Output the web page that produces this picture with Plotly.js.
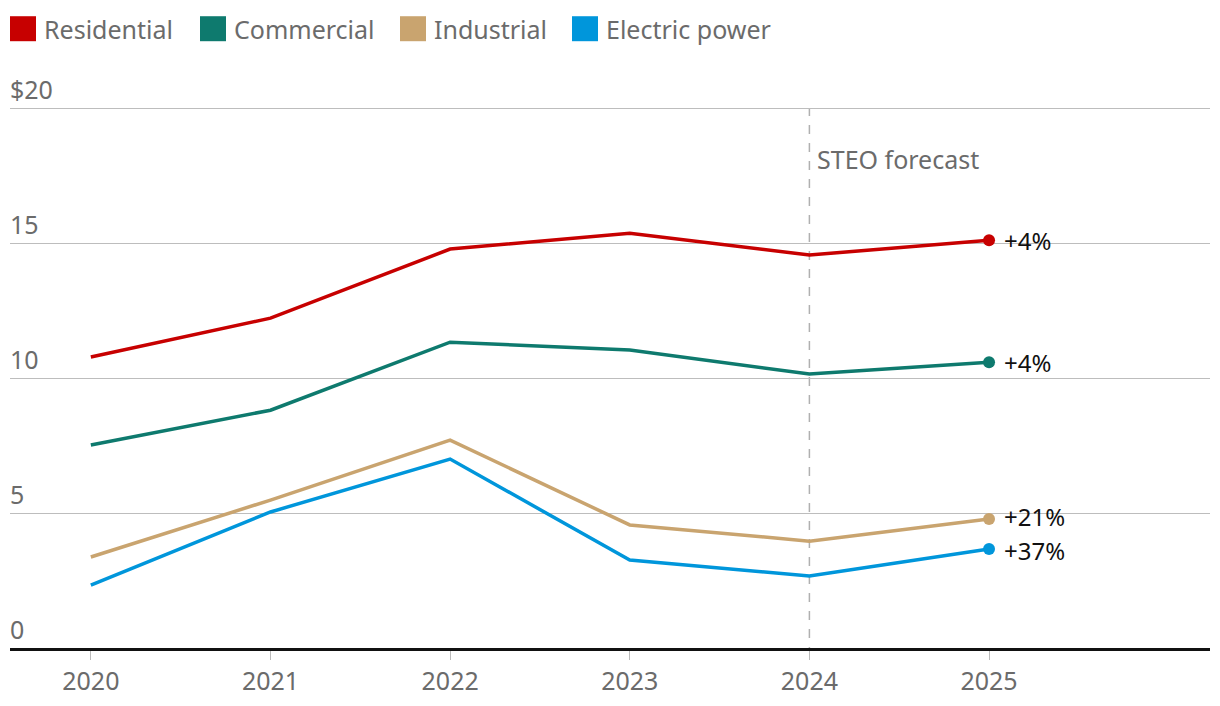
<!DOCTYPE html>
<html>
<head>
<meta charset="utf-8">
<script src="https://cdn.plot.ly/plotly-3.0.1.min.js"></script>
<style>html,body{margin:0;padding:0;background:#fff;}#chart{width:1220px;height:706px;}</style>
</head>
<body>
<div id="chart"></div>
<script>
// ---- data ----
const years = [2020, 2021, 2022, 2023, 2024, 2025];
const residential = [10.78, 12.22, 14.78, 15.37, 14.56, 15.11];
const commercial  = [7.52, 8.81, 11.33, 11.04, 10.15, 10.59];
const industrial  = [3.37, 5.48, 7.70, 4.56, 3.96, 4.78];
const electricPower = [2.33, 5.04, 7.00, 3.26, 2.67, 3.67];
const seriesNames = ["Residential", "Commercial", "Industrial", "Electric power"];
const yTickVals = [0, 5, 10, 15, 20];
const yTickText = ["0", "5", "10", "15", "$20"];
const forecastYear = 2024;
const forecastLabel = "STEO forecast";

// ---- styles ----
const colors = ["#c70000", "#0e7a6e", "#c9a46f", "#0096db"];
const FONT = "Noto Sans, sans-serif";
const GRAY = "#6b6b6b";
const legendPx = [10, 200, 400, 572];   // left pixel of each legend swatch
const labelYShift = [0, 0, 2, -2];       // px nudges for end labels
const Y_MAX = 21.6;
const PLOT_H = Y_MAX * 27;              // px per unit = 27
const BOTTOM_PX = 648;

const allSeries = [residential, commercial, industrial, electricPower];
const traces = [];
const annotations = [];
const shapes = [];
const px2paperX = p => (p - 10) / 1200;
const px2paperY = p => (BOTTOM_PX - p) / PLOT_H;

allSeries.forEach((vals, i) => {
  traces.push({
    x: years, y: vals, type: "scatter", mode: "lines",
    line: {color: colors[i], width: 3.5}, hoverinfo: "skip", showlegend: false
  });
  const last = vals.length - 1;
  traces.push({
    x: [years[last]], y: [vals[last]], type: "scatter", mode: "markers",
    marker: {color: colors[i], size: 12}, hoverinfo: "skip", showlegend: false
  });
  const pct = Math.round((vals[last] / vals[last - 1] - 1) * 100);
  annotations.push({
    x: years[last], y: vals[last], xref: "x", yref: "y",
    text: "+" + pct + "%", showarrow: false, xanchor: "left", yanchor: "middle",
    xshift: 14, yshift: labelYShift[i], borderpad: 0,
    font: {family: FONT, size: 24, color: "#111"}
  });
  shapes.push({
    type: "rect", xref: "paper", yref: "paper",
    x0: px2paperX(legendPx[i]), x1: px2paperX(legendPx[i] + 26),
    y0: px2paperY(41), y1: px2paperY(16),
    fillcolor: colors[i], line: {width: 0}
  });
  annotations.push({
    x: px2paperX(legendPx[i] + 32), y: px2paperY(28.5), xref: "paper", yref: "paper",
    text: seriesNames[i], showarrow: false, xanchor: "left", yanchor: "middle",
    font: {family: FONT, size: 25, color: GRAY}
  });
});

shapes.push({
  type: "line", xref: "x", yref: "y", x0: forecastYear, x1: forecastYear, y0: -0.3, y1: 20,
  line: {color: "#b0b0b0", width: 1.5, dash: "dash"}, layer: "below"
});
annotations.push({
  x: forecastYear, y: 20, xref: "x", yref: "y", yshift: -51,
  text: forecastLabel, showarrow: false, xanchor: "left", yanchor: "middle", xshift: 6,
  font: {family: FONT, size: 25, color: GRAY}
});

const layout = {
  width: 1220, height: 706,
  margin: {l: 10, r: 10, t: 706 - 58 - PLOT_H, b: 58},
  paper_bgcolor: "#fff", plot_bgcolor: "#fff",
  showlegend: false,
  font: {family: FONT, color: GRAY},
  xaxis: {
    range: [2019.55, 2026.23], tickvals: years, ticktext: years.map(String),
    showgrid: false, zeroline: false, showline: true, linecolor: "#111", linewidth: 2.5,
    ticks: "outside", ticklen: 9, tickcolor: "#bbb", tickwidth: 1,
    tickfont: {family: FONT, size: 25, color: GRAY}, fixedrange: true
  },
  yaxis: {
    range: [0, Y_MAX], tickvals: yTickVals, ticktext: yTickText,
    showgrid: true, gridcolor: "#bdbdbd", gridwidth: 1, zeroline: false, showline: false,
    ticks: "", ticklabelposition: "inside top", ticklabelstandoff: -3,
    tickfont: {family: FONT, size: 25, color: GRAY}, fixedrange: true
  },
  shapes: shapes,
  annotations: annotations
};

Plotly.newPlot("chart", traces, layout, {displayModeBar: false, staticPlot: true});
</script>
</body>
</html>
